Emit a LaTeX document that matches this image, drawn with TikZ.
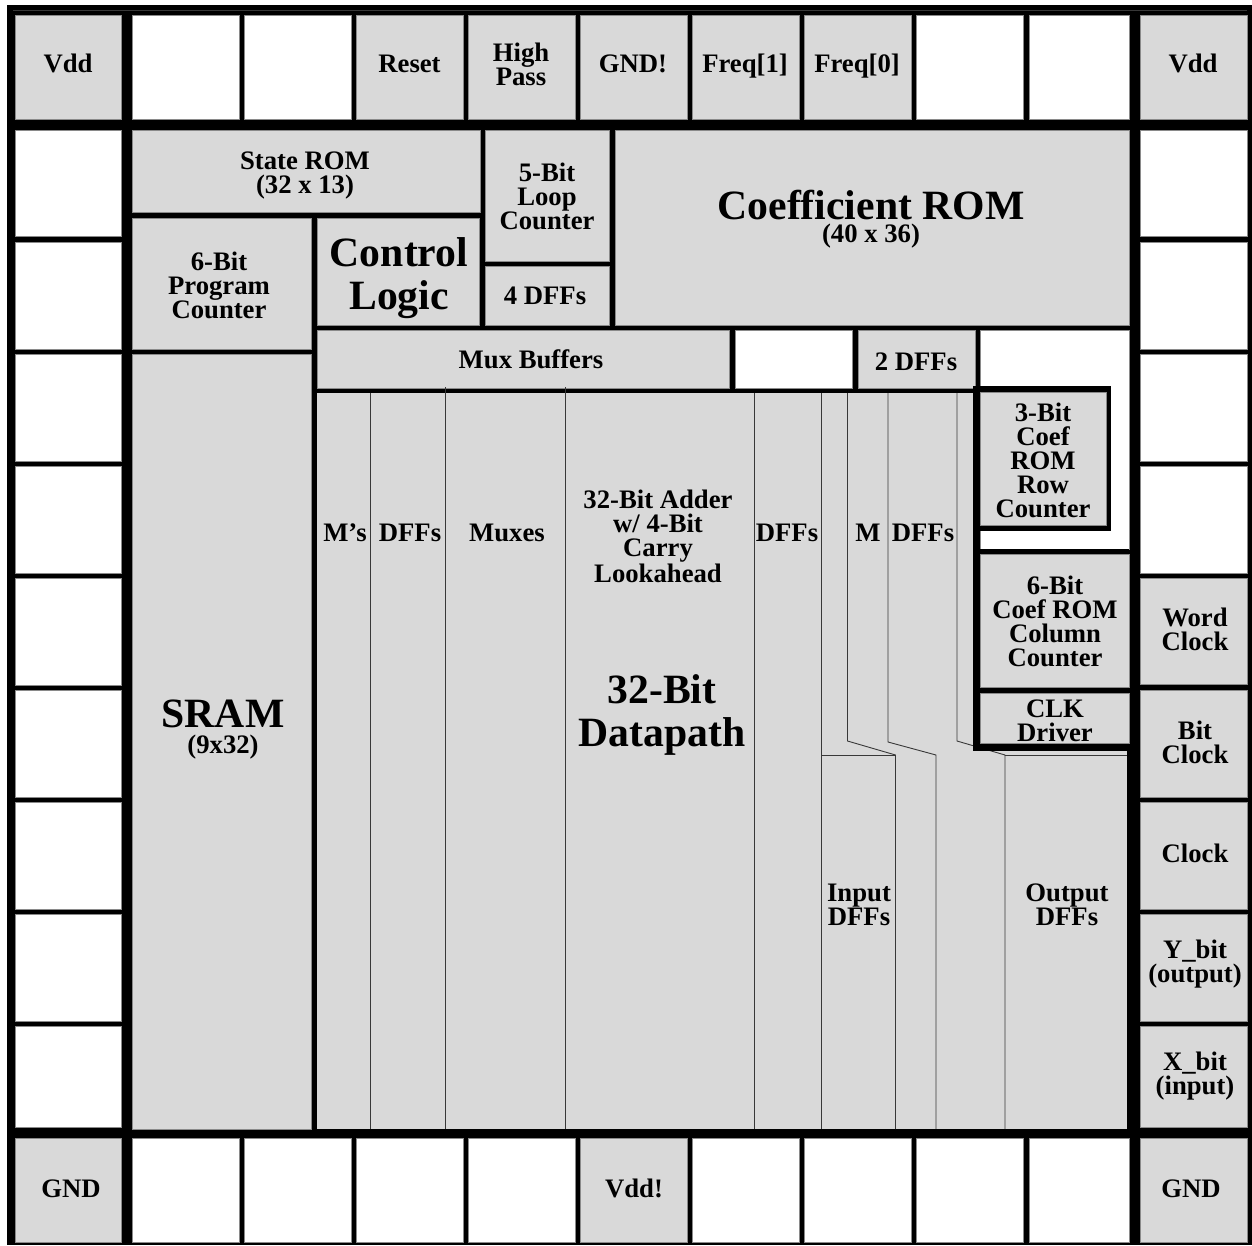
\documentclass[tikz,border=0pt]{standalone}
\usepackage{fontspec}
\setmainfont{Liberation Serif}
\usetikzlibrary{fit}
\newcommand{\cell}[6]{\node[#2,fit={(#3,#4)(#5,#6)}] (#1) {};}
\newcommand{\lab}[4]{\node[lbl] (#1) at (#2,#3) {#4};}
\newcommand{\lbig}[4]{\node[lblbig] (#1) at (#2,#3) {#4};}
\tikzset{
  x=1pt,y=-1pt,
  base/.style={inner sep=0pt,outer sep=0pt,rectangle},
  pad/.style={base,fill=blockgray,draw=edgegray,line width=0.6pt},
  empty/.style={base,fill=white,draw=edgegray,line width=0.6pt},
  core/.style={base,fill=blockgray},
  mask/.style={base,fill=black},
  lbl/.style={inner sep=0pt,align=center,font=\fontsize{26.7}{24}\selectfont\bfseries},
  lblbig/.style={inner sep=0pt,align=center,font=\fontsize{41.7}{42.5}\selectfont\bfseries},
  thin line/.style={line width=0.9pt,draw=linegray},
}
\definecolor{blockgray}{HTML}{D9D9D9}
\definecolor{edgegray}{HTML}{8A8A8A}
\definecolor{linegray}{HTML}{383838}
\begin{document}
\begin{tikzpicture}
\useasboundingbox (0,0) rectangle (1252,1245);
\fill[white] (0,0) rectangle (1252,1245);
\cell{frame}{mask}{7}{5}{1252}{1245}
\draw[line width=1pt,draw=linegray] (13,10) -- (1247,10);
% top row
\cell{tVddL}{pad}{15}{15}{121}{119}
\cell{t1}{empty}{132}{15}{239}{119}
\cell{t2}{empty}{244}{15}{351}{119}
\cell{tReset}{pad}{356}{15}{463}{119}
\cell{tHigh}{pad}{468}{15}{575}{119}
\cell{tGnd}{pad}{580}{15}{687}{119}
\cell{tF1}{pad}{692}{15}{799}{119}
\cell{tF0}{pad}{804}{15}{911}{119}
\cell{t8}{empty}{916}{15}{1023}{119}
\cell{t9}{empty}{1029}{15}{1129}{119}
\cell{tVddR}{pad}{1140}{15}{1247}{119}
% bottom row
\cell{bGndL}{pad}{15}{1138}{121}{1242}
\cell{b1}{empty}{132}{1138}{239}{1242}
\cell{b2}{empty}{244}{1138}{351}{1242}
\cell{b3}{empty}{356}{1138}{463}{1242}
\cell{b4}{empty}{468}{1138}{575}{1242}
\cell{bVdd}{pad}{580}{1138}{687}{1242}
\cell{b6}{empty}{692}{1138}{799}{1242}
\cell{b7}{empty}{804}{1138}{911}{1242}
\cell{b8}{empty}{916}{1138}{1023}{1242}
\cell{b9}{empty}{1029}{1138}{1129}{1242}
\cell{bGndR}{pad}{1140}{1138}{1247}{1242}
% left column
\cell{l1}{empty}{15}{130}{121}{236}
\cell{l2}{empty}{15}{242}{121}{349}
\cell{l3}{empty}{15}{354}{121}{461}
\cell{l4}{empty}{15}{466}{121}{573}
\cell{l5}{empty}{15}{578}{121}{685}
\cell{l6}{empty}{15}{690}{121}{797}
\cell{l7}{empty}{15}{802}{121}{909}
\cell{l8}{empty}{15}{914}{121}{1021}
\cell{l9}{empty}{15}{1026}{121}{1127}
% right column
\cell{r1}{empty}{1140}{130}{1247}{236}
\cell{r2}{empty}{1140}{242}{1247}{349}
\cell{r3}{empty}{1140}{354}{1247}{461}
\cell{r4}{empty}{1140}{466}{1247}{573}
\cell{rWord}{pad}{1140}{578}{1247}{684}
\cell{rBit}{pad}{1140}{690}{1247}{797}
\cell{rClock}{pad}{1140}{802}{1247}{909}
\cell{rY}{pad}{1140}{914}{1247}{1021}
\cell{rX}{pad}{1140}{1026}{1247}{1127}
% core blocks
\cell{stateRom}{pad}{132}{130}{480}{212}
\cell{loopCnt}{pad}{485}{130}{609}{261}
\cell{fourDff}{pad}{485}{266}{609}{325}
\cell{coefRom}{pad}{615}{130}{1129}{325}
\cell{progCnt}{pad}{132}{218}{311}{349}
\cell{ctrl}{pad}{317}{218}{479}{325}
\cell{muxBuf}{pad}{317}{330}{729}{388}
\cell{gapA}{empty}{735}{330}{852}{388}
\cell{twoDff}{pad}{858}{330}{975}{388}
\cell{gapB}{empty}{980}{330}{1129}{549}
\cell{sram}{pad}{132}{354}{311}{1129}
% datapath
\cell{dpUpper}{core}{317}{393}{973}{752}
\cell{dpLower}{core}{317}{751}{1127}{1129}
\coordinate (a0) at (370,393); \coordinate (a1) at (370,1129);
\coordinate (b0) at (445,387); \coordinate (b1x) at (445,1129);
\coordinate (c0) at (565,387); \coordinate (c1) at (565,1129);
\coordinate (d0) at (754,393); \coordinate (d1) at (754,1129);
\coordinate (e0) at (821,393); \coordinate (e1) at (821,1129);
\draw[thin line] (a0) -- (a1);
\draw[thin line] (b0) -- (b1x);
\draw[thin line] (c0) -- (c1);
\draw[thin line] (d0) -- (d1);
\draw[thin line] (e0) -- (e1);
\draw[thin line] (847.5,393) -- (847.5,741) -- (895.5,755) -- (895.5,1129);
\draw[thin line] (888,393) -- (888,742) -- (936,755) -- (936,1129);
\draw[thin line] (957,393) -- (957,741) -- (1005,755) -- (1005,1129);
\draw[thin line] (821,755) -- (895.5,755);
\draw[thin line] (1005,755) -- (1127,755);
% right-hand counters
\cell{rowFrame}{mask}{973}{386}{1111}{531}
\cell{rowCnt}{pad}{980}{392}{1106}{525}
\cell{clkFrame}{mask}{973}{549}{1129}{751}
\cell{colCnt}{pad}{980}{554}{1129}{687}
\cell{clk}{pad}{980}{693}{1129}{743}
\cell{dpSide}{mask}{973}{393}{978}{549}
% labels
\lab{vddTL}{68}{63.5}{Vdd}
\lab{lReset}{409.5}{64}{Reset}
\lab{lHigh}{521}{64}{High\\Pass}
\lab{lGndB}{633}{64}{GND!}
\lab{lF1}{745}{66}{Freq[1]}
\lab{lF0}{857}{66}{Freq[0]}
\lab{vddTR}{1193}{63.5}{Vdd}
\lab{lState}{305}{175.5}{State ROM\\(32 x 13)}
\lab{lLoop}{547}{196}{5-Bit\\Loop\\Counter}
\lbig{lCoef}{871}{205}{Coefficient ROM}
\lab{lCoefS}{871}{236}{(40 x 36)}
\lbig{lCtrl}{399}{278}{Control\\Logic}
\lab{lProg}{219}{285}{6-Bit\\Program\\Counter}
\lab{lFour}{545}{296}{4 DFFs}
\lab{lMux}{531}{359}{Mux Buffers}
\lab{lTwo}{916}{362}{2 DFFs}
\lab{lRow}{1043}{460}{3-Bit\\Coef\\ROM\\Row\\Counter}
\lab{lMs}{345}{533}{M’s}
\lab{lD1}{410}{533}{DFFs}
\lab{lMuxes}{507}{533}{Muxes}
\lab{lAdd}{658}{536.5}{32-Bit Adder\\w/ 4-Bit\\Carry\\Lookahead}
\lbig{lDp}{662}{715}{32-Bit\\Datapath}
\lab{lD2}{787}{533}{DFFs}
\lab{lM}{868}{533}{M}
\lab{lD3}{923}{533}{DFFs}
\lab{lCol}{1055}{621}{6-Bit\\Coef ROM\\Column\\Counter}
\lab{lClk}{1055}{721}{CLK\\Driver}
\lab{lWord}{1195}{629}{Word\\Clock}
\lab{lBit}{1195}{742}{Bit\\Clock}
\lab{lClock}{1195}{853}{Clock}
\lab{lY}{1195}{964}{Y\_bit\\(output)}
\lab{lX}{1195}{1076}{X\_bit\\(input)}
\lbig{lSram}{223}{714}{SRAM}
\lab{lSramS}{223}{747}{(9x32)}
\lab{lIn}{859}{905}{Input\\DFFs}
\lab{lOut}{1067}{905}{Output\\DFFs}
\lab{gndBL}{71}{1189}{GND}
\lab{vddB}{634}{1188}{Vdd!}
\lab{gndBR}{1191}{1189}{GND}
\end{tikzpicture}
\end{document}
